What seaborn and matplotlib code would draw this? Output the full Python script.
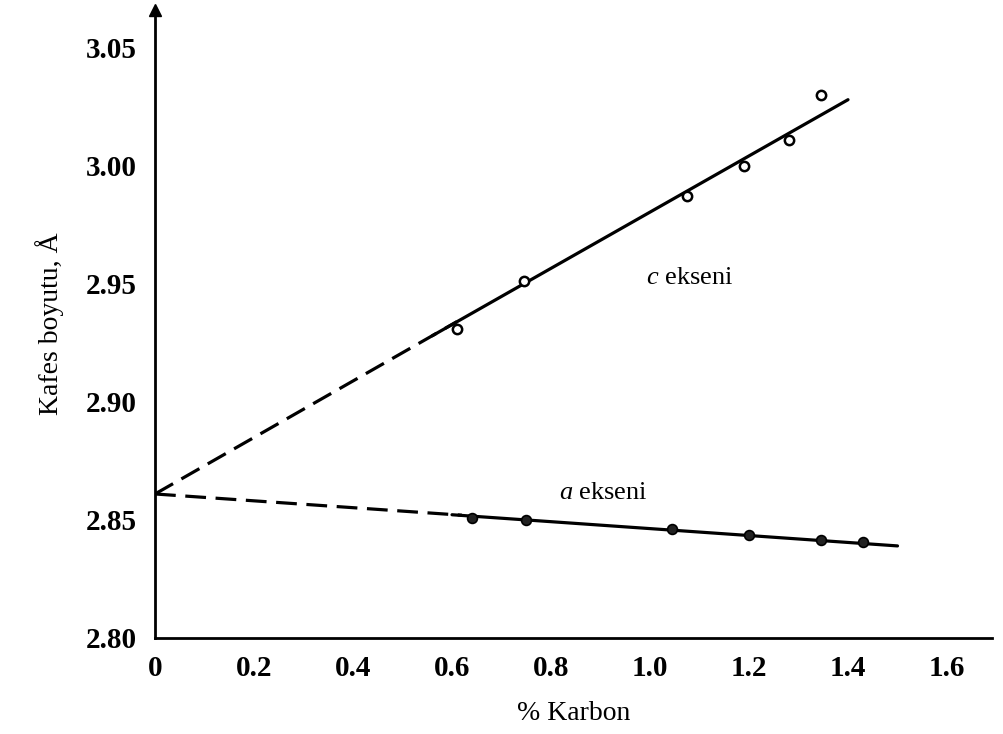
import matplotlib
matplotlib.use("Agg")
import matplotlib.pyplot as plt
import seaborn as sns

# ---- data ----
c_pts_x = [0.61, 0.745, 1.075, 1.19, 1.28, 1.345]
c_pts_y = [2.931, 2.951, 2.987, 3.000, 3.011, 3.030]
a_pts_x = [0.64, 0.75, 1.045, 1.20, 1.345, 1.43]
a_pts_y = [2.851, 2.850, 2.846, 2.8435, 2.8415, 2.8405]

c_dash_x = [0.0, 0.61]
c_dash_y = [2.861, 2.934]
c_solid_x = [0.56, 1.40]
c_solid_y = [2.928, 3.028]
a_dash_x = [0.0, 0.62]
a_dash_y = [2.861, 2.852]
a_solid_x = [0.60, 1.50]
a_solid_y = [2.8522, 2.839]

x_ticks = [0, 0.2, 0.4, 0.6, 0.8, 1.0, 1.2, 1.4, 1.6]
x_tick_labels = ["0", "0.2", "0.4", "0.6", "0.8", "1.0", "1.2", "1.4", "1.6"]
y_ticks = [2.80, 2.85, 2.90, 2.95, 3.00, 3.05]
y_tick_labels = ["2.80", "2.85", "2.90", "2.95", "3.00", "3.05"]

x_label = "% Karbon"
y_label = "Kafes boyutu, Å"

sns.set_style("white")
plt.rcParams["font.family"] = ["Liberation Serif", "DejaVu Serif"]
plt.rcParams["mathtext.fontset"] = "custom"
plt.rcParams["mathtext.it"] = "Liberation Serif:italic"
plt.rcParams["mathtext.rm"] = "Liberation Serif"
plt.rcParams["text.color"] = "black"
plt.rcParams["axes.labelcolor"] = "black"
plt.rcParams["xtick.color"] = "black"
plt.rcParams["ytick.color"] = "black"

fig = plt.figure(figsize=(10.04, 7.34), dpi=100)
ax = fig.add_axes([0.1544, 0.1308, 0.8332, 0.8556])

lw = 2.3
dash = (6.5, 3.0)
sns.lineplot(x=c_dash_x, y=c_dash_y, ax=ax, color="black", lw=lw)
ax.lines[-1].set_dashes(dash)
sns.lineplot(x=c_solid_x, y=c_solid_y, ax=ax, color="black", lw=lw)
sns.lineplot(x=a_dash_x, y=a_dash_y, ax=ax, color="black", lw=lw)
ax.lines[-1].set_dashes(dash)
sns.lineplot(x=a_solid_x, y=a_solid_y, ax=ax, color="black", lw=lw)

sns.scatterplot(x=c_pts_x, y=c_pts_y, ax=ax, s=45, facecolor="white",
                edgecolor="black", linewidth=1.8, zorder=5)
sns.scatterplot(x=a_pts_x, y=a_pts_y, ax=ax, s=50, facecolor="#222222",
                edgecolor="black", linewidth=1.2, zorder=5)

ax.set_xlim(0, 1.69)
ax.set_ylim(2.80, 3.066)
ax.set_xticks(x_ticks)
ax.set_xticklabels(x_tick_labels, fontweight="bold")
ax.set_yticks(y_ticks)
ax.set_yticklabels(y_tick_labels, fontweight="bold")

ax.tick_params(axis="both", direction="in", length=9, width=1.6,
               labelsize=21, color="black", labelcolor="black")
ax.tick_params(axis="y", pad=13)
ax.tick_params(axis="x", pad=12)

for side in ["top", "right"]:
    ax.spines[side].set_visible(False)
for side in ["left", "bottom"]:
    ax.spines[side].set_linewidth(2.0)
    ax.spines[side].set_color("black")

# arrow heads at ends of axes
ax.plot(1, 0, ">k", markersize=8, transform=ax.get_yaxis_transform(), clip_on=False)
ax.plot(0, 1, "^k", markersize=8, transform=ax.get_xaxis_transform(), clip_on=False)

ax.set_xlabel(x_label, fontsize=20, labelpad=14)
ax.set_ylabel(y_label, fontsize=20, labelpad=16)

ax.text(1.08, 2.9525, "$c$ ekseni", fontsize=19, ha="center", va="center")
ax.text(0.905, 2.8615, "$a$ ekseni", fontsize=19, ha="center", va="center")

fig.savefig("out.png", dpi=100)
